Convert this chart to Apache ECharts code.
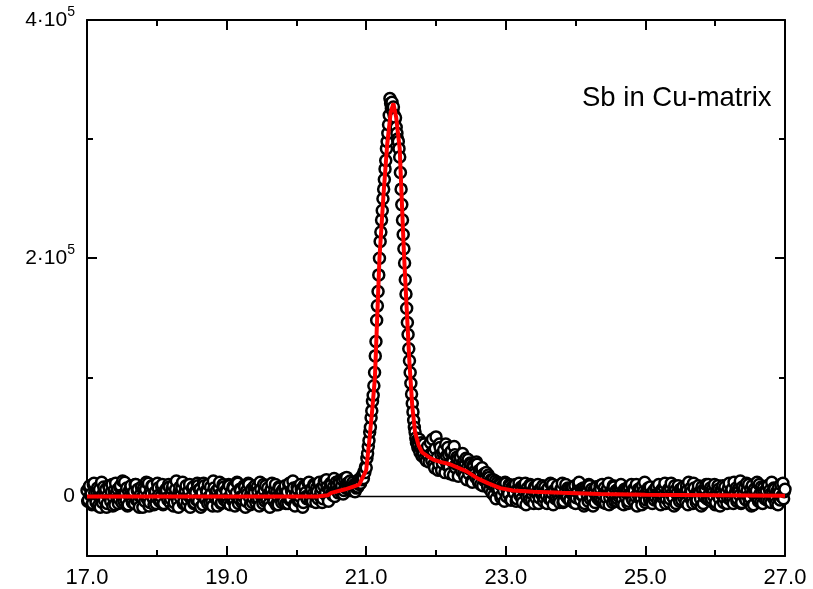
<!DOCTYPE html>
<html><head><meta charset="utf-8">
<script src="https://cdn.jsdelivr.net/npm/echarts@6/dist/echarts.min.js"></script>
<style>html,body{margin:0;padding:0;background:#fff}#c{width:813px;height:589px}</style>
</head><body><div id="c"></div>
<script>
// Measured counts, in units of 1000
const xStartA = 17.00, stepA = 0.02;
const valsA = [
 5,-3,9,2,-6,11,-2,4,-8,6,0,-5,8,3,-9,1,7,-4,10,-1,
 -7,3,6,-2,9,-5,1,12,-3,-8,4,7,-1,2,-6,10,5,-4,0,8,
 -9,3,6,-2,11,-5,2,9,-7,4,-1,7,-4,0,10,-6,3,5,-3,8,
 -2,6,-8,1,13,-4,4,-1,7,-6,2,9,-3,5,-9,0,8,-5,3,11,
 -4,6,1,-7,9,-2,4,10,-5,2,-8,7,0,5,-3,12,-6,3,8,-1,
 4,-6,9,1,-3,7,-8,3,11,-2,5,-5,0,8,-4,2,10,-7,6,-1,
 3,-5,8,-2,12,0,-6,5,9,-3,2,-9,6,1,-4,10,4,-7,7,-1,
 5,-4,9,2,-6,11,-2,3,7,-8,1,6,-3,10,4,-5,8,0,-2,12,
 -3,6,2,9,-5,4,11,0,7,-2,13,3,8,-4,5,10,1,15,6,9,
 3,11,7,14,5,9,16,8,12,6,10
];
const xStartA2 = 17.01, stepA2 = 0.02;
const valsA2 = [
 -4,8,1,-7,10,3,-5,7,0,-9,12,2,-3,6,-6,9,-1,4,-8,5,
 11,-2,-6,8,1,13,-4,3,7,-7,0,9,-5,4,10,-3,6,-9,2,-1,
 7,-4,12,0,-8,5,9,-2,3,-6,11,1,-3,8,-7,4,6,-1,10,-5,
 2,9,-5,6,-1,-9,8,3,12,-4,5,-7,1,10,-2,7,-6,4,-3,9,
 6,-9,3,11,-2,5,-6,0,8,-4,13,-1,4,-8,7,2,-5,10,-3,5,
 -2,10,-7,4,8,-4,1,12,-6,6,0,-3,9,-9,5,11,-1,3,-5,8,
 9,-2,4,-8,6,1,10,-4,-1,7,-6,3,11,-3,5,-7,0,8,2,-5,
 -1,7,-6,4,10,-3,5,13,-7,2,8,-4,0,6,-9,9,3,-2,11,1,
 6,-4,10,1,7,-2,12,4,-5,9,2,14,-1,6,11,3,8,0,12,5,
 13,4,9,2,15,7,11,6,13,9,12
];
const xStartB = 20.82, stepB = 0.01;
const valsB = [
 6,10,4,9,7,12,8,14,10,13,
 11,16,14,18,15,21,20,25,24,32,
 36,42,47,54,58,66,72,80,85,93,
 104,118,130,148,160,172,186,200,214,222,
 232,240,250,258,266,275,282,292,298,305,
 312,320,334,330,326,331,324,327,320,316,
 318,310,305,300,298,292,285,272,258,245,
 232,220,208,196,182,170,158,146,136,124,
 114,104,95,86,78,71,64,58,54,49,
 45,47,41,43,48,37,41,45,34,40,
 36,44,32,39,30,37,42,34,29
];
const xStartC = 21.92, stepC = 0.02;
const valsC = [
 45,30,38,24,50,33,27,41,22,36,31,44,26,35,19,38,29,42,24,33,
 17,30,25,36,20,28,14,31,23,27,12,25,19,29,15,22,10,24,18,13,
 20,8,16,11,3,14,9,-2,12,6,10,1,8,-4,11,5,2,9,-3,7,
 3,10,-2,6,1,8,-5,5,11,0,4,-3,9,2,-6,7,3,10,-1,5,
 2,-4,8,1,6,-2,11,3,-7,5,0,9,-3,4,7,-5,2,10,-1,6,
 -3,5,8,0,-6,4,10,-2,6,1,-8,7,3,-4,9,2,-1,5,-5,8,
 1,-3,6,10,-5,3,-1,7,-7,4,2,9,-4,5,-2,0,8,-6,3,6,
 -1,7,-4,2,10,-3,5,0,-8,6,3,-2,9,1,-5,4,7,-3,2,-6,
 5,0,8,-4,3,-7,6,1,11,-2,4,-5,7,2,-1,9,-6,3,0,6,
 -3,8,2,-5,5,12,-1,4,-6,7,1,-3,9,3,-8,5,0,6,-2,10,
 2,-4,6,0,-7,4,9,-2,5,1,-5,8,3,-1,11,-3,6,-6,2,7,
 -2,4,13,-5,1,7,-3,5,10,-1,-8,3,6,0,12,-4,2,8,-6,4,
 1,-3,9,5,-5,2,7,-1,4,-7,3,10,0,-2,6
];
const xStartC2 = 21.93, stepC2 = 0.02;
const valsC2 = [
 36,48,27,40,31,22,44,35,28,39,20,34,41,25,37,30,18,35,27,31,
 26,33,21,29,17,32,24,19,28,13,26,21,16,27,12,20,23,9,19,15,
 12,18,6,14,10,1,13,7,4,11,-1,9,5,12,0,6,10,-3,8,4,
 8,-4,6,11,2,-2,9,4,-7,7,1,10,-3,5,8,-1,3,-6,6,2,
 9,-1,4,-6,7,2,-3,10,5,-2,8,1,-5,6,11,-4,3,0,7,-3,
 6,2,-5,9,-1,4,12,-3,1,7,-6,5,0,10,-2,6,-8,3,8,-1,
 4,9,-3,1,7,-6,5,11,-1,3,-5,8,0,-4,6,2,10,-2,-7,5,
 3,-6,8,1,-2,6,-5,10,2,-1,7,-7,4,12,-3,5,0,8,-4,2,
 -3,7,2,10,-5,4,-1,8,-6,3,6,-2,11,0,-8,5,2,9,-4,1,
 6,-1,4,9,-7,2,7,-3,11,1,-5,5,3,-2,8,-6,4,10,0,-3,
 7,-2,3,10,-5,1,6,-8,4,9,-1,2,-6,7,0,5,-3,12,3,-4,
 6,1,-6,8,3,-2,11,0,-4,6,9,-7,2,5,-1,10,-5,4,7,-2,
 5,9,-4,2,12,-1,6,-6,3,8,-3,0,11,4
];
// Fit curve (x, counts/1000)
const fitX = [17.0,20.3,20.45,20.5,20.7,20.9,21.0,21.05,21.09,21.125,21.19,21.25,21.3,21.35,21.39,21.43,21.48,21.54,21.58,21.62,21.66,21.7,21.75,21.8,21.9,21.96,22.06,22.2,22.44,22.6,22.75,22.92,23.1,23.39,23.8,24.35,25.0,26.0,27.0];
const fitY = [0,0,1,3,6,10,22,50,75,100,200,255,295,322,330,318,292,205,158,112,76,54,43,37,33,31,29,27,21,15,11,7,5,4,3,2,1.5,1,0.5];
const yMajor = [0, 200000, 400000];
const yMinor = [100000, 300000];
const titleText = 'Sb in Cu-matrix';

function seg(x0, st, vals){ return vals.map((v,i)=>[+(x0+i*st).toFixed(2), v*1000]); }
const pts = seg(xStartA, stepA, valsA).concat(seg(xStartA2, stepA2, valsA2), seg(xStartB, stepB, valsB), seg(xStartC, stepC, valsC), seg(xStartC2, stepC2, valsC2))
  .sort((a,b)=>a[0]-b[0]);
const fit = fitX.map((x,i)=>[x, fitY[i]*1000]);

const FONT = '"Liberation Sans", Arial, Helvetica, sans-serif';
const blk = '#000';
function yLab(v){
  if (v === 0) return '{b|0}';
  return '{b|' + (v/100000) + '·10}{s|5}';
}
const rich = { b:{fontSize:21, fontFamily:FONT, color:blk, lineHeight:22}, s:{fontSize:14, fontFamily:FONT, color:blk, verticalAlign:'top', lineHeight:30} };
function yAx(pos, major, labels){
  return {
    type:'value', position:pos, min:-50000, max:400000,
    axisLine:{show:major, onZero:false, lineStyle:{color:blk, width:2}},
    axisTick:{show:true, inside:true, length: major?10:6, lineStyle:{color:blk, width:2}, customValues: major? yMajor : yMinor},
    axisLabel:{show:labels, customValues:yMajor, formatter:yLab, rich:rich, margin:12},
    splitLine:{show:false}
  };
}
function xAx(pos, labels){
  return {
    type:'value', position:pos, min:17, max:27, interval:2,
    axisLine:{show:true, onZero:false, lineStyle:{color:blk, width:2}},
    axisTick:{show:true, inside:true, length:10, lineStyle:{color:blk, width:2}},
    minorTick:{show:true, splitNumber:2, length:6, lineStyle:{color:blk, width:2}},
    axisLabel:{show:labels, formatter:(v)=>v.toFixed(1), fontSize:22, fontFamily:FONT, color:blk, margin:11, showMaxLabel:true, showMinLabel:true},
    splitLine:{show:false}, minorSplitLine:{show:false}
  };
}
const chart = echarts.init(document.getElementById('c'), null, {renderer:'canvas'});
chart.setOption({
  animation:false,
  backgroundColor:'#fff',
  grid:{left:87, right:28, top:20, bottom:32, containLabel:false},
  xAxis:[xAx('bottom', true), xAx('top', false)],
  yAxis:[yAx('left', true, true), yAx('left', false, false), yAx('right', true, false), yAx('right', false, false)],
  graphic:[{type:'text', left:582, top:84, style:{text:titleText, fontSize:27.5, fontFamily:FONT, fill:blk}}],
  series:[
    {type:'line', data:[[17,0],[27,0]], showSymbol:false, lineStyle:{color:blk, width:1.5}, z:2, silent:true},
    {type:'scatter', data:pts, symbol:'circle', symbolSize:11, itemStyle:{color:'#fff', borderColor:blk, borderWidth:2.5, opacity:1}, z:3, clip:false},
    {type:'line', data:fit, showSymbol:false, lineStyle:{color:'#ff0000', width:4}, z:4}
  ]
});
</script></body></html>
